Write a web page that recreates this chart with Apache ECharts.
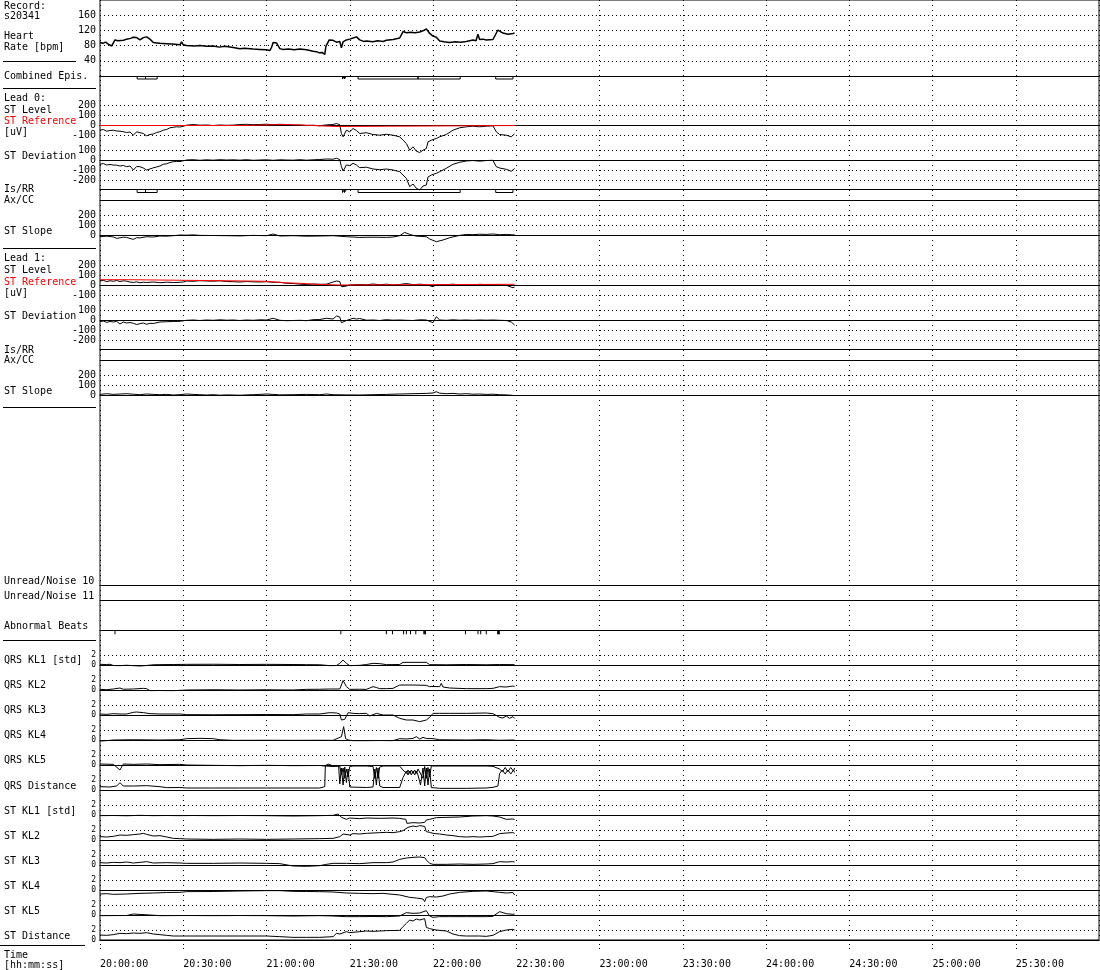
<!DOCTYPE html>
<html><head><meta charset="utf-8">
<script src="https://cdn.jsdelivr.net/npm/echarts@6/dist/echarts.min.js"></script>
<style>html,body{margin:0;padding:0;background:#fff}#c{width:1100px;height:970px}</style>
</head><body><div id="c"></div>
<script>
// ---------------- DATA (time in minutes after 20:00:00) ----------------
const timeTicks = ['20:00:00','20:30:00','21:00:00','21:30:00','22:00:00','22:30:00','23:00:00','23:30:00','24:00:00','24:30:00','25:00:00','25:30:00','26:00:00'];

const heartRate = [[0,88],[1,86],[2,89],[3,84],[4.2,79],[4.8,78],[5.4,95],[6.5,93],[7.2,96],[8.5,94],[9.6,97],[11,99],[12,102],[13.2,101],[14.4,95],[15.6,101],[16.8,103],[18,97],[19.2,88],[20.5,87],[21.6,86],[24,85],[26,84],[28.8,82],[29.4,90],[30,82],[31.2,80],[34,79],[36,80],[38.4,78],[40.8,79],[43,76],[45,78],[48,75],[50.4,72],[52,73],[55.2,71],[57.6,70],[60,69],[61.2,67],[61.8,75],[62.4,88],[63.6,87],[64.8,72],[66,70],[68,71],[70,69],[72,71],[74.4,69],[76.8,65],[78,64],[79,61],[80,62],[81,57],[81.4,78],[82.6,95],[84,94],[85.2,89],[86.4,91],[87,74],[87.6,90],[88.8,95],[90,97],[91.2,100],[92.4,103],[93.6,95],[95,91],[96,92],[98.4,90],[100,93],[102,91],[103.2,94],[105.6,96],[108,100],[109.2,117],[110.4,114],[112,115],[113.5,114],[115.2,116],[116.4,119],[117.6,124],[118.8,112],[120,105],[121.2,102],[122.4,92],[124,90],[126,88],[128,90],[130,89],[132,91],[134.4,95],[135.5,93],[136.2,110],[136.8,96],[138,97],[139.2,95],[141.6,96],[143.4,121],[145.2,113],[147,110],[148.8,112],[149.4,113]];

const combinedEpisodes = [[13.4,16.4],[16.4,20.6],[87.4,88.1],[88.1,88.8],[93,114.6],[114.6,129.8],[142.6,148.8]];
const lead0IsEpisodes = [[13.4,16.4],[16.4,20.6],[87.4,88.1],[88.1,88.8],[93,129.8],[142.6,148.8]];

const lead0Level = [[0,-47],[1.2,-40],[2.4,-57],[3.6,-50],[4.8,-47],[6,-55],[7.2,-57],[8.4,-62],[9.6,-70],[10.8,-65],[12,-97],[12.4,-113],[13.2,-63],[14.4,-72],[15.6,-80],[16.8,-103],[18,-90],[19.2,-85],[20.4,-70],[21.6,-62],[22.8,-47],[24,-40],[25.2,-23],[26.4,-18],[27.6,-13],[28.8,-15],[29.4,-30],[30,-8],[31.2,3],[33.6,10],[36,3],[38.4,5],[40.8,0],[43.2,5],[45.6,2],[48,4],[50.4,10],[52.8,12],[55.2,8],[57.6,10],[60,13],[62.4,8],[64.8,12],[67.2,10],[69.6,3],[72,5],[74.4,0],[76.8,3],[79.2,-3],[81.6,6],[84,10],[85.2,20],[86.4,8],[87,-80],[87.6,-113],[88.8,-47],[90,-63],[91.2,-30],[92.4,-50],[93.6,-80],[96,-72],[98.4,-90],[100.8,-97],[103.2,-88],[105.6,-97],[108,-113],[109.2,-147],[110.4,-180],[111.6,-247],[112.8,-213],[114,-257],[115.2,-270],[116.4,-247],[117.6,-230],[118.2,-163],[119.4,-147],[121.2,-130],[122.4,-113],[124.8,-90],[127.2,-47],[129.6,-23],[132,-13],[134.4,-7],[136.8,-13],[139.2,-7],[141.6,-3],[142.8,-63],[144,-90],[146.4,-97],[148.2,-113],[149.4,-83]];
const lead0Reference = [[0,0],[50,0],[50,10],[67,10],[67,0],[77,0],[77,-10],[85,-10],[85,0],[149.4,0]];
const lead0Deviation = [[0,-43],[1.2,-35],[2.4,-50],[3.6,-45],[4.8,-50],[6,-52],[7.2,-60],[8.4,-55],[9.6,-67],[10.8,-60],[12,-100],[12.4,-110],[13.2,-65],[14.4,-67],[15.6,-80],[16.8,-100],[18,-90],[19.2,-78],[20.4,-70],[21.6,-60],[22.8,-43],[24,-38],[25.2,-25],[26.4,-17],[27.6,-15],[28.8,-15],[29.4,-33],[30,-8],[31.2,0],[33.6,3],[36,-3],[38.4,2],[40.8,-2],[43.2,3],[45.6,0],[48,2],[50.4,-2],[52.8,3],[55.2,-3],[57.6,0],[60,2],[62.4,-3],[64.8,2],[67.2,0],[69.6,-2],[72,3],[74.4,-2],[76.8,2],[79.2,5],[81.6,10],[84,8],[85.2,17],[86.4,5],[87,-67],[87.6,-110],[88.8,-50],[90,-55],[91.2,-33],[92.4,-50],[93.6,-77],[96,-72],[98.4,-90],[100.8,-97],[103.2,-90],[105.6,-100],[108,-117],[109.2,-150],[110.4,-183],[111.6,-267],[112.8,-240],[114,-283],[115.2,-300],[116.4,-260],[117.6,-250],[118.2,-170],[119.4,-150],[121.2,-133],[122.4,-117],[124.8,-83],[127.2,-43],[129.6,-23],[132,-10],[134.4,-5],[136.8,-12],[139.2,-5],[141.6,-3],[142.8,-67],[144,-80],[146.4,-93],[148.2,-113],[149.4,-85]];
const lead0Slope = [[0,-10],[2.4,-5],[4.8,-12],[6,-27],[8.4,-15],[9.6,-17],[12,-37],[13.2,-20],[14.4,-22],[16.8,-10],[19.2,-13],[21.6,-3],[24,-5],[26.4,0],[28.8,7],[31.2,5],[33.6,8],[36,3],[40.8,2],[45.6,0],[50.4,-2],[55.2,3],[60,0],[62.4,17],[64.8,-3],[69.6,0],[74.4,-5],[79.2,-3],[84,0],[88.8,-10],[93.6,-17],[98.4,-15],[103.2,-17],[105.6,-13],[108,0],[109.8,33],[111.6,13],[114,-5],[117.6,-10],[118.8,-33],[121.2,-60],[123.6,-43],[126,-20],[129.6,3],[132,13],[134.4,10],[136.8,15],[139.2,13],[141.6,17],[144,10],[146.4,13],[148.8,8],[149.4,10]];

const lead1Level = [[0,40],[1.2,47],[2.4,33],[3.6,43],[4.8,37],[6,45],[7.2,35],[8.4,42],[9.6,38],[10.8,30],[12,25],[13.2,32],[14.4,22],[15.6,28],[16.8,25],[19.2,30],[21.6,23],[24,28],[26.4,25],[28.8,27],[29.4,12],[30,30],[31.2,40],[33.6,37],[36,43],[38.4,40],[40.8,38],[43.2,42],[45.6,35],[48,33],[50.4,30],[52.8,35],[55.2,32],[57.6,30],[60,33],[62.4,27],[64.8,28],[67.2,17],[69.6,15],[72,8],[74.4,5],[76.8,10],[79.2,7],[81.6,8],[84,30],[85.2,40],[85.8,60],[86.4,35],[87,-17],[88.2,-15],[88.8,-5],[90,0],[93.6,5],[96,2],[98.4,10],[100.8,3],[103.2,8],[105.6,0],[108,5],[110.4,15],[112.8,3],[115.2,8],[117.6,3],[120,-17],[121.2,5],[124.8,3],[127.2,8],[129.6,2],[132,5],[134.4,0],[136.8,7],[139.2,3],[141.6,5],[144,2],[146.4,-3],[148.8,-27],[149.4,-20]];
const lead1Reference = [[0,53],[10.2,53],[10.2,43],[43.8,43],[43.8,37],[60,37],[60,23],[66,23],[66,17],[72,17],[72,7],[78,7],[78,0],[86.4,0],[86.4,7],[149.4,7]];
const lead1Deviation = [[0,-17],[1.2,-10],[2.4,-23],[3.6,-15],[4.8,-20],[6,-13],[7.2,-40],[8.4,-20],[9.6,-30],[10.8,-25],[12,-33],[13.2,-45],[14.4,-37],[15.6,-30],[16.8,-43],[18,-33],[19.2,-35],[21.6,-20],[24,-17],[26.4,-15],[28.8,-13],[29.4,-5],[31.2,-3],[33.6,0],[36,-5],[38.4,0],[40.8,-3],[43.2,2],[45.6,-2],[48,0],[50.4,-5],[52.8,0],[55.2,-3],[57.6,2],[60,0],[62.4,17],[63,5],[64.8,-3],[67.2,-7],[69.6,-5],[72,-3],[74.4,-7],[76.8,3],[79.2,5],[81.6,17],[84,10],[85.2,40],[85.8,50],[86.4,30],[87,-27],[87.6,-17],[88.8,-5],[91.2,17],[92.4,10],[93.6,15],[96,-2],[98.4,0],[100.8,-5],[103.2,3],[105.6,-2],[108,0],[110.4,-3],[112.8,-5],[115.2,2],[117.6,0],[120,-27],[121.2,33],[122.4,0],[124.8,-3],[127.2,2],[129.6,-2],[132,0],[134.4,-3],[136.8,0],[139.2,-2],[141.6,0],[144,-3],[146.4,-5],[148.2,-20],[149.4,-50]];
const lead1Slope = [[0,13],[2.4,20],[4.8,13],[7.2,17],[9.6,20],[12,15],[14.4,10],[16.8,17],[19.2,13],[21.6,10],[24,13],[26.4,7],[28.8,10],[31.2,17],[33.6,13],[36,10],[38.4,7],[40.8,10],[43.2,5],[45.6,8],[48,7],[50.4,5],[52.8,8],[55.2,10],[57.6,13],[60,17],[62.4,13],[64.8,8],[69.6,10],[74.4,13],[79.2,10],[81.6,17],[84,10],[88.8,8],[93.6,7],[98.4,10],[103.2,13],[108,17],[112.8,20],[117.6,23],[120,27],[121.2,40],[122.4,25],[124.8,20],[127.2,23],[129.6,17],[132,20],[134.4,15],[136.8,17],[139.2,13],[141.6,15],[144,10],[146.4,8],[148.8,3],[149.4,0]];

const abnormalBeats = [5.4,86.8,103.2,105.4,109.4,110.4,111.9,113.8,116.7,117.0,117.3,131.7,136.2,137.2,139.2,143.3,143.6,143.9];

const qrsKL1 = [[0,0.13],[2.4,0.1],[3.6,0.15],[4.8,-0.1],[7.2,-0.13],[9.6,-0.05],[12,-0.13],[14.4,-0.2],[16.8,-0.1],[19.2,0.05],[21.6,0.07],[26.4,0.1],[31.2,0.13],[40.8,0.15],[50.4,0.1],[60,0.13],[69.6,0.1],[74.4,0.07],[79.2,0.05],[82.8,-0.13],[85.2,-0.1],[86.4,0.33],[87.6,1.0],[88.8,0.33],[90,-0.13],[93.6,-0.07],[96,0.1],[98.4,0.33],[100.8,0.27],[103.2,0.07],[108,0.1],[109.2,0.53],[117.6,0.53],[118.8,0.07],[124.8,0.05],[132,0.1],[139.2,0.05],[144,0.1],[149.4,0.07]];
const qrsKL2 = [[0,0.13],[2.4,0.07],[4.8,0.2],[7.2,0.4],[8.4,0.15],[12,0.2],[15.6,0.33],[16.8,0.27],[18,-0.13],[21.6,-0.1],[26.4,-0.13],[28.8,-0.07],[31.2,0],[40.8,0.05],[50.4,0],[60,0.05],[69.6,0],[74.4,0.13],[79.2,0.15],[82.8,0.2],[86.4,0.2],[87,1.0],[87.6,1.9],[88.8,0.67],[90,0.13],[93.6,0.15],[96,0.13],[97.2,0.4],[98.4,0.67],[99.6,0.5],[100.8,0.27],[103.2,0.27],[105.6,0.33],[108,1.0],[112.8,1.0],[117.6,0.93],[118.8,0.67],[120,0.7],[122.4,0.67],[123,1.33],[123.6,0.6],[126,0.4],[132,0.27],[139.2,0.27],[141.6,0.33],[144,0.67],[146.4,0.6],[148.8,0.8],[149.4,0.67]];
const qrsKL3 = [[0,0.2],[2.4,0.13],[4.8,0.27],[7.2,0.2],[9.6,0.2],[12,0.53],[13.2,0.6],[15.6,0.47],[18,0.27],[21.6,0.2],[28.8,0.2],[31.2,0.07],[40.8,0.05],[50.4,0.07],[60,0.1],[69.6,0.07],[74.4,0.2],[79.2,0.2],[82.8,0.47],[85.2,0.4],[86.4,0.2],[87,-1.0],[88.2,-0.87],[89.4,0.47],[91.2,0.33],[93.6,0.27],[96,0.33],[97.2,-0.2],[99.6,0.33],[102,0],[105.6,0],[108,-0.67],[110.4,-1.0],[112.8,-1.0],[115.2,-1.33],[117.6,-1.0],[118.8,-0.47],[120,0.33],[122.4,0.33],[126,0.33],[132,0.33],[139.2,0.4],[141.6,0.27],[144,-0.47],[145.2,-0.6],[146.4,-0.2],[147.6,-0.67],[148.8,-0.33],[149.4,-0.67]];
const qrsKL4 = [[0,-0.2],[2.4,-0.13],[4.8,0],[12,0.05],[21.6,0],[28.8,0.05],[31.2,0.27],[36,0.33],[40.8,0.27],[43.2,0.05],[48,-0.07],[60,-0.05],[69.6,-0.07],[79.2,-0.05],[84,-0.07],[87,0.67],[87.8,2.67],[88.5,0.3],[89.4,0],[91.2,-0.13],[96,-0.13],[100.8,-0.1],[105.6,-0.13],[108,0.27],[110.4,0.2],[112.8,0.33],[114,0.67],[115.2,0.2],[116.4,0.53],[117.6,0.3],[120,0.27],[122.4,0.05],[132,0],[139.2,0.05],[144,-0.05],[149.4,0]];
const qrsKL5 = [[0,0.2],[4.8,0.13],[7.2,-1.0],[8.4,0.2],[12,0.13],[16.8,0.2],[21.6,0.07],[28.8,0.13],[31.2,0],[40.8,-0.07],[50.4,-0.13],[60,-0.07],[69.6,-0.13],[79.2,-0.1],[81,-0.2],[82.2,0.2],[84,-0.2],[86.4,-0.2],[87,-2.0],[87.6,-0.6],[88.2,-2.67],[88.8,-0.8],[89.4,-2.4],[90,-0.3],[91.2,-0.2],[96,-0.2],[98.4,-0.3],[99,-2.67],[99.6,-0.5],[100.2,-2.67],[100.8,-0.4],[102,-0.2],[105.6,-0.2],[108,-0.2],[109.2,-1.0],[110.4,-1.67],[111,-1.0],[111.6,-1.67],[112.2,-1.0],[112.8,-1.67],[113.4,-1.0],[114,-1.67],[114.6,-0.8],[116.4,-2.67],[117,-0.3],[117.6,-2.67],[118.2,-0.5],[118.8,-2.4],[119.4,-0.2],[122.4,-0.2],[132,-0.2],[139.2,-0.2],[141.6,-0.27],[144,-0.8],[145,-1.33],[146,-0.5],[147,-1.33],[148,-0.5],[149,-1.2],[149.4,-0.6]];
const qrsDistance = [[0,0.67],[3.6,0.6],[6,0.8],[7.2,1.47],[8.4,0.8],[12,0.8],[16.8,0.87],[21.6,0.67],[24,0.47],[28.8,0.5],[31.2,0.4],[40.8,0.4],[50.4,0.4],[60,0.4],[69.6,0.4],[79.2,0.4],[81,0.67],[81.2,4.8],[84,4.7],[86,4.8],[86.4,1.2],[87,4.4],[87.6,1.0],[88.2,4.6],[88.8,1.5],[89.4,4.2],[90,0.6],[96,0.5],[98.4,0.6],[99,4.2],[99.6,1.0],[100.2,4.4],[100.8,0.8],[102,0.5],[108,0.5],[109.2,2.5],[110.4,3.8],[111,3.0],[111.6,3.8],[112.2,3.0],[112.8,3.8],[113.4,3.0],[114,3.8],[114.6,3.0],[115.5,1.0],[116.4,4.4],[117,0.8],[117.6,4.4],[118.2,1.0],[118.8,4.2],[119.4,0.5],[122.4,0.33],[132,0.33],[139.2,0.4],[141.6,0.53],[143.4,0.8],[144,3.3],[145,4.0],[146,3.2],[147,4.0],[148,3.2],[149,4.0],[149.4,3.5]];

const stKL1 = [[0,-0.13],[4.8,-0.1],[9.6,-0.15],[14.4,-0.07],[19.2,-0.13],[24,-0.1],[28.8,-0.13],[33.6,-0.1],[40.8,-0.13],[50.4,-0.1],[60,-0.13],[69.6,-0.2],[79.2,-0.13],[84,-0.07],[85.8,0.2],[87,-0.47],[88.8,-0.87],[90,-0.6],[93.6,-0.73],[96,-0.6],[100.8,-0.67],[105.6,-0.6],[108,-0.67],[110.2,-0.87],[110.6,-1.67],[112.8,-1.53],[115.2,-1.6],[117,-1.47],[117.6,-1.0],[118.8,-0.87],[121.2,-0.53],[124.8,-0.47],[129.6,-0.4],[134.4,-0.2],[139.2,-0.13],[141.6,-0.2],[144,-0.4],[146.4,-0.87],[148.8,-0.8],[149.4,-0.9]];
const stKL2 = [[0,0.67],[2.4,0.6],[4.8,0.73],[7.2,1.0],[9.6,0.93],[12,1.07],[14.4,1.2],[15.6,1.33],[16.8,1.13],[19.2,0.8],[21.6,0.87],[24,0.6],[26.4,0.33],[28.8,0.27],[31.2,0.2],[40.8,0.13],[50.4,0.2],[60,0.13],[69.6,0.2],[79.2,0.27],[84,0.33],[86.4,0.67],[87.6,1.2],[90,1.0],[91.2,1.27],[93.6,1.2],[96,1.33],[98.4,1.4],[100.8,1.47],[103.2,1.53],[105.6,1.47],[108,1.67],[109.2,1.87],[111,2.53],[112.8,2.8],[114,2.67],[115.2,2.87],[117,2.73],[117.6,1.67],[118.8,1.53],[120,1.33],[122.4,1.2],[124.8,1.0],[127.2,0.87],[129.6,0.67],[132,0.6],[134.4,0.67],[136.8,0.6],[139.2,0.67],[141.6,0.73],[144,1.27],[146.4,1.4],[148.8,1.47],[149.4,1.33]];
const stKL3 = [[0,0.47],[2.4,0.4],[4.8,0.53],[7.2,0.47],[9.6,0.6],[12,0.4],[14.4,0.53],[16.8,0.67],[19.2,0.4],[24,0.47],[28.8,0.4],[31.2,0.33],[40.8,0.33],[50.4,0.4],[60,0.33],[64.8,0.27],[69.6,-0.2],[74.4,-0.27],[79.2,-0.13],[81.6,0.13],[84,0.33],[88.8,0.33],[93.6,0.27],[98.4,0.47],[103.2,0.47],[105.6,0.6],[108,1.13],[110.4,1.4],[112.8,1.53],[115.2,1.6],[117,1.47],[117.6,1.0],[118.8,0.33],[120,0.13],[124.8,0.13],[129.6,0.2],[134.4,0.13],[139.2,0.2],[141.6,0.27],[144,0.67],[146.4,0.6],[148.8,0.67],[149.4,0.6]];
const stKL4 = [[0,-0.8],[2.4,-0.73],[4.8,-0.87],[9.6,-0.8],[14.4,-0.67],[19.2,-0.6],[24,-0.5],[28.8,-0.47],[31.2,-0.33],[40.8,-0.3],[50.4,-0.2],[60,-0.13],[64.8,-0.13],[69.6,-0.27],[74.4,-0.3],[79.2,-0.33],[84,-0.4],[88.8,-0.6],[93.6,-0.67],[98.4,-0.73],[102,-0.67],[105.6,-0.87],[108,-1.0],[111.6,-1.47],[114,-1.6],[116.4,-1.8],[117,-2.33],[117.6,-1.5],[118.8,-1.33],[121.2,-1.4],[123.6,-1.2],[126,-0.8],[129.6,-0.47],[134.4,-0.27],[139.2,-0.2],[141.6,-0.33],[144,-0.47],[146.4,-0.6],[148.8,-0.5],[149.4,-1.0]];
const stKL5 = [[0,-0.13],[9.6,-0.1],[12,0.2],[12.5,-0.13],[21.6,-0.13],[31.2,-0.1],[40.8,-0.13],[50.4,-0.1],[60,-0.13],[69.6,-0.2],[79.2,-0.13],[84,-0.2],[88.8,-0.33],[93.6,-0.33],[98.4,-0.3],[103.2,-0.33],[108,-0.2],[110.4,0.47],[112.8,0.33],[115.2,0.4],[117.6,0.87],[118.8,-0.2],[120,-0.47],[122.4,-0.33],[126,-0.33],[132,-0.33],[139.2,-0.33],[141.6,-0.27],[144,0.67],[146.4,0.27],[148.8,0.13],[149.4,0.2]];
const stDistance = [[0,1.0],[2.4,0.93],[4.8,1.07],[7.2,1.33],[9.6,1.27],[12,1.4],[14.4,1.33],[16.8,1.47],[19.2,1.2],[21.6,1.07],[24,0.93],[26.4,0.8],[28.8,0.8],[31.2,0.8],[40.8,0.8],[50.4,0.8],[60,0.8],[64.8,0.67],[69.6,0.53],[74.4,0.53],[79.2,0.53],[84,0.67],[85.2,1.33],[86.4,1.2],[88.8,1.67],[90,1.47],[93.6,1.67],[96,1.8],[98.4,1.73],[103.2,1.87],[108,1.93],[109.2,2.67],[110.4,3.33],[111.6,4.0],[112.8,3.8],[114,4.2],[115.2,4.0],[117,4.27],[117.6,2.53],[118.8,2.27],[121.2,2.0],[124.8,1.8],[127.2,1.2],[129.6,0.87],[132,0.8],[136.8,0.8],[139.2,0.73],[141.6,0.93],[144,1.67],[146.4,2.0],[148.8,2.13],[149.4,2.0]];

const leftLabels = [
  ['Record:',6.5],['s20341',16],['Heart',36],['Rate [bpm]',47],['Combined Epis.',76.5],
  ['Lead 0:',98.5],['ST Level',110.5],['ST Reference',121.5,'#ff0000'],['[uV]',132.5],['ST Deviation',156.5],['Is/RR',189.5],['Ax/CC',200],['ST Slope',231.5],
  ['Lead 1:',258.5],['ST Level',270.5],['ST Reference',282,'#ff0000'],['[uV]',293],['ST Deviation',316.5],['Is/RR',350],['Ax/CC',360.5],['ST Slope',391.5],
  ['Unread/Noise 10',581],['Unread/Noise 11',596],['Abnormal Beats',626.5],
  ['QRS KL1 [std]',660.5],['QRS KL2',685.5],['QRS KL3',710.5],['QRS KL4',735.5],['QRS KL5',760.5],['QRS Distance',786],
  ['ST KL1 [std]',811.5],['ST KL2',836],['ST KL3',861],['ST KL4',886],['ST KL5',911],['ST Distance',936],
  ['Time',955],['[hh:mm:ss]',965]
];
const separators = [[3,76,61],[3,96,88],[3,96,248],[3,96,407],[3,96,640],[0,85,945]];

// ---------------- BUILD ----------------
const FONT = 'DejaVu Sans Mono';
const LEFT = 100, WIDTH = 999, TMAX = 360;
const grids = [], xAxes = [], yAxes = [], series = [];

// frame grid with time axis
grids.push({left: LEFT, width: WIDTH, top: 0, height: 940, show: true, borderColor: '#000', borderWidth: 1, backgroundColor: 'transparent'});
xAxes.push({gridIndex: 0, type: 'value', min: 0, max: TMAX, interval: 30,
  axisLine: {show: true, onZero: false, lineStyle: {color: '#000', width: 1}},
  axisTick: {show: true, length: 10, lineStyle: {color: '#000', type: [1, 3]}},
  axisLabel: {show: true, showMaxLabel: false, align: 'left', margin: 19, color: '#000', fontFamily: FONT, fontSize: 10,
    formatter: v => timeTicks[Math.round(v / 30)]},
  splitLine: {show: true, lineStyle: {color: '#000', width: 1, type: [1, 4]}}});
yAxes.push({gridIndex: 0, type: 'value', min: 0, max: 1, show: false});

function addPanel(top, height, min, max, interval, opts) {
  opts = opts || {};
  const i = grids.length;
  grids.push({left: LEFT, width: WIDTH, top: top, height: height, show: false});
  xAxes.push({gridIndex: i, type: 'value', min: 0, max: TMAX, show: opts.zero !== false,
    axisLine: {show: true, onZero: true, lineStyle: {color: '#000', width: 1}},
    axisTick: {show: false}, axisLabel: {show: false}, splitLine: {show: false}});
  yAxes.push({gridIndex: i, type: 'value', min: min, max: max, interval: interval,
    axisLine: {show: false}, axisTick: {show: false},
    axisLabel: {show: !!opts.labels, showMinLabel: false, showMaxLabel: false, margin: 4, color: '#000',
      fontFamily: FONT, fontSize: opts.small ? 8 : 10, padding: [2, 0, 0, 0]},
    splitLine: {show: !!opts.dotted, showMinLine: false, showMaxLine: false,
      lineStyle: {color: '#000', width: 1, type: [1, 3]}}});
  return i;
}
function addLine(gi, data, color, width, z) {
  series.push({type: 'line', xAxisIndex: gi, yAxisIndex: gi, data: data, symbol: 'none', showSymbol: false,
    clip: false, silent: true, animation: false, z: z || 2,
    lineStyle: {color: color || '#000', width: width || 1}});
}
function boxes(episodes) {
  const d = [];
  episodes.forEach(e => { d.push([e[0], 0], [e[0], -1], [e[1], -1], [e[1], 0], [e[1], '-']); });
  return d;
}
function ticks(times) {
  const d = [];
  times.forEach(t => { d.push([t, 0], [t, -1], [t, '-']); });
  return d;
}

const full = {labels: true, dotted: true};
// heart rate
const gHR = addPanel(0, 76, 0, 200, 40, full);
addLine(gHR, heartRate, '#000', 1.5);
// combined episodes
const gCE = addPanel(76, 3, -1, 0, 1);
addLine(gCE, boxes(combinedEpisodes));
// lead 0
const gL0L = addPanel(95.5, 50, -200, 300, 100, full);
addLine(gL0L, lead0Level);
addLine(gL0L, lead0Reference, '#ff0000', 1, 3);
const gL0D = addPanel(140, 50, -300, 200, 100, full);
addLine(gL0D, lead0Deviation);
const gL0I = addPanel(189.5, 3, -1, 0, 1);
addLine(gL0I, boxes(lead0IsEpisodes));
addPanel(200, 3, -1, 0, 1);
const gL0S = addPanel(205.7, 40, -100, 300, 100, full);
addLine(gL0S, lead0Slope);
// lead 1
const gL1L = addPanel(255, 50, -200, 300, 100, full);
addLine(gL1L, lead1Level);
addLine(gL1L, lead1Reference, '#ff0000', 1, 3);
const gL1D = addPanel(300, 50, -300, 200, 100, full);
addLine(gL1D, lead1Deviation);
addPanel(349.5, 3, -1, 0, 1);
addPanel(360.3, 3, -1, 0, 1);
const gL1S = addPanel(365.7, 40, -100, 300, 100, full);
addLine(gL1S, lead1Slope);
// noise + abnormal beats
addPanel(585, 3, -1, 0, 1);
addPanel(600, 3, -1, 0, 1);
const gAB = addPanel(630.3, 4, -1, 0, 1);
addLine(gAB, ticks(abnormalBeats));
// KL panels
const small = {labels: true, dotted: true, small: true};
[qrsKL1, qrsKL2, qrsKL3, qrsKL4, qrsKL5, qrsDistance].forEach((d, k) => {
  const g = addPanel(665 + 25 * k - 20, 30, -2, 4, 2, small);
  addLine(g, d);
});
[stKL1, stKL2, stKL3, stKL4, stKL5, stDistance].forEach((d, k) => {
  const g = addPanel(815 + 25 * k - 20, 30, -2, 4, 2, small);
  addLine(g, d);
});

const graphics = [];
leftLabels.forEach(l => graphics.push({type: 'text', x: 4, y: l[1], silent: true,
  style: {text: l[0], fill: l[2] || '#000', fontFamily: FONT, fontSize: 10, verticalAlign: 'middle', align: 'left'}}));
separators.forEach(s => graphics.push({type: 'line', silent: true,
  shape: {x1: s[0], y1: s[2] + 0.5, x2: s[1], y2: s[2] + 0.5}, style: {stroke: '#000', lineWidth: 1}}));

const chart = echarts.init(document.getElementById('c'), null, {renderer: 'canvas'});
chart.setOption({
  animation: false,
  backgroundColor: '#fff',
  grid: grids, xAxis: xAxes, yAxis: yAxes, series: series,
  graphic: graphics
});
</script></body></html>
